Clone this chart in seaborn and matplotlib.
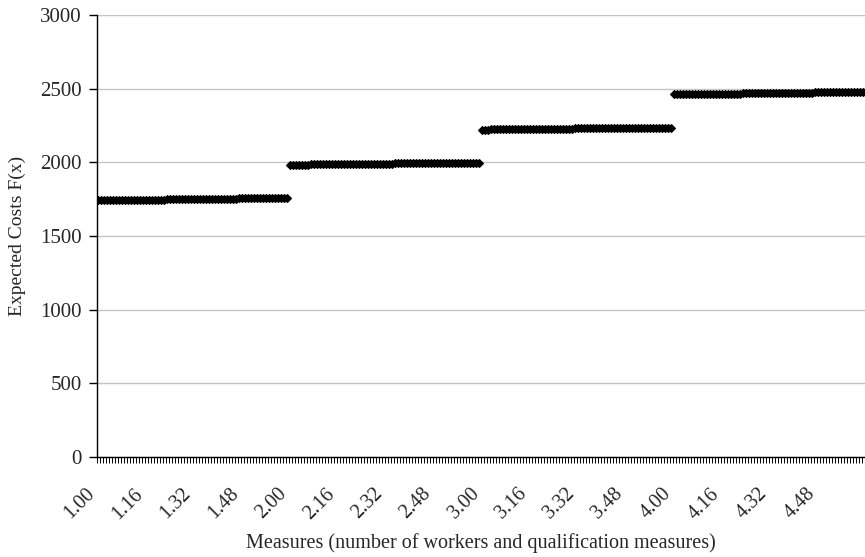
import numpy as np
import pandas as pd
import seaborn as sns
import matplotlib.pyplot as plt
from matplotlib.transforms import ScaledTranslation

# category labels: workers . qualification measure (00..63)
workers = [1, 2, 3, 4]
measures = list(range(64))
categories = [f"{w}.{q:02d}" for w in workers for q in measures]

# expected costs, one list per number of workers
costs_1 = [1742, 1742, 1742, 1743, 1743, 1743, 1743, 1744, 1744, 1744, 1744, 1745, 1745, 1745, 1745, 1746,
           1746, 1746, 1746, 1747, 1747, 1747, 1747, 1748, 1748, 1748, 1748, 1749, 1749, 1749, 1749, 1750,
           1750, 1750, 1750, 1751, 1751, 1751, 1751, 1752, 1752, 1752, 1752, 1753, 1753, 1753, 1753, 1754,
           1754, 1754, 1754, 1755, 1755, 1755, 1755, 1756, 1756, 1756, 1756, 1757, 1757, 1757, 1757, 1757]
costs_2 = [1983, 1983, 1983, 1984, 1984, 1984, 1984, 1985, 1985, 1985, 1985, 1986, 1986, 1986, 1986, 1987,
           1987, 1987, 1987, 1988, 1988, 1988, 1988, 1989, 1989, 1989, 1989, 1990, 1990, 1990, 1990, 1991,
           1991, 1991, 1991, 1992, 1992, 1992, 1992, 1993, 1993, 1993, 1993, 1994, 1994, 1994, 1994, 1995,
           1995, 1995, 1995, 1996, 1996, 1996, 1996, 1997, 1997, 1997, 1997, 1998, 1998, 1998, 1998, 1998]
costs_3 = [2222, 2222, 2222, 2223, 2223, 2223, 2223, 2224, 2224, 2224, 2224, 2225, 2225, 2225, 2225, 2226,
           2226, 2226, 2226, 2227, 2227, 2227, 2227, 2228, 2228, 2228, 2228, 2229, 2229, 2229, 2229, 2230,
           2230, 2230, 2230, 2231, 2231, 2231, 2231, 2232, 2232, 2232, 2232, 2233, 2233, 2233, 2233, 2234,
           2234, 2234, 2234, 2234, 2235, 2235, 2235, 2235, 2235, 2236, 2236, 2236, 2236, 2236, 2236, 2236]
costs_4 = [2462, 2462, 2462, 2463, 2463, 2463, 2463, 2464, 2464, 2464, 2464, 2465, 2465, 2465, 2465, 2466,
           2466, 2466, 2466, 2467, 2467, 2467, 2467, 2468, 2468, 2468, 2468, 2469, 2469, 2469, 2469, 2470,
           2470, 2470, 2470, 2471, 2471, 2471, 2471, 2472, 2472, 2472, 2472, 2473, 2473, 2473, 2473, 2474,
           2474, 2474, 2474, 2475, 2475, 2475, 2475, 2476, 2476, 2476, 2476, 2477, 2477, 2477, 2477, 2478]

df = pd.DataFrame({'measure': categories,
                   'workers': [w for w in workers for _ in measures],
                   'cost': costs_1 + costs_2 + costs_3 + costs_4})

sns.set_style('white')
plt.rcParams['font.family'] = ['Liberation Serif', 'DejaVu Serif']

fig = plt.figure(figsize=(8.65, 5.57), dpi=100)
ax = fig.add_axes([0.112, 0.18, 0.888, 0.793])

# one line per worker count, so the steps are not joined
sns.lineplot(data=df, x='measure', y='cost', hue='workers', palette=['black'] * 4,
             sort=False, legend=False, marker='D', markersize=4.5,
             markeredgecolor='black', markerfacecolor='black', markeredgewidth=0.8,
             linewidth=2, ax=ax)

n = len(categories)
ax.set_xlim(-0.5, n - 0.5)
ax.set_ylim(0, 3000)
ax.set_yticks(range(0, 3001, 500))
ax.yaxis.grid(True, color='#c4c4c4', linewidth=1)
ax.set_axisbelow(True)

ax.set_xticks(range(0, n, 16))
ax.set_xticklabels(categories[::16], rotation=45, ha='right', rotation_mode='anchor', fontsize=14.5)
ax.set_xticks(np.arange(-0.5, n, 1), minor=True)
ax.tick_params(axis='x', which='major', bottom=True, length=0, pad=20)
ax.tick_params(axis='x', which='minor', bottom=True, length=4, width=0.7, color='black', direction='out')
ax.tick_params(axis='y', left=True, length=6, width=1, color='black', direction='out', labelsize=15, pad=5)

shift = ScaledTranslation(-13 / 100, 0, fig.dpi_scale_trans)
for lab in ax.get_xticklabels():
    lab.set_transform(lab.get_transform() + shift)

for side in ['top', 'right']:
    ax.spines[side].set_visible(False)
for side in ['left', 'bottom']:
    ax.spines[side].set_color('black')
    ax.spines[side].set_linewidth(1)

ax.set_xlabel('Measures (number of workers and qualification measures)', fontsize=14.5, labelpad=7)
ax.set_ylabel('Expected Costs F(x)', fontsize=14, labelpad=10)

fig.savefig('out.png', dpi=100)
